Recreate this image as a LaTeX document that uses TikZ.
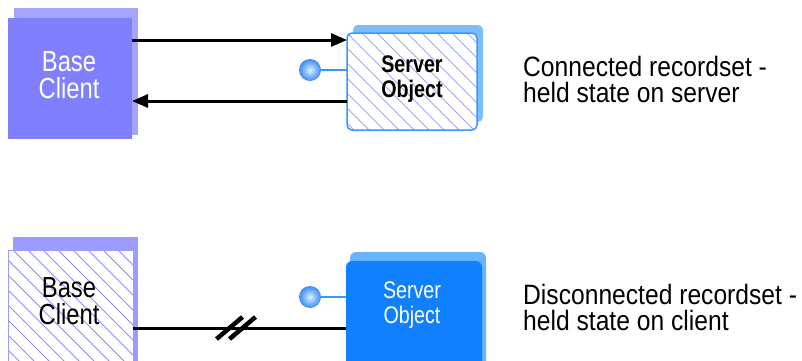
\documentclass[tikz,border=0pt]{standalone}
\usepackage{fontspec}
\setmainfont{Liberation Sans}
\newfontfamily\narrowsans{Liberation Sans}[FakeStretch=0.82]
\newfontfamily\notesans{Liberation Sans}[FakeStretch=0.88]
\usetikzlibrary{arrows.meta,calc}

\definecolor{clientface}{HTML}{8080FF}
\definecolor{clientback}{HTML}{A4A4FF}
\definecolor{clientedge}{HTML}{9C9CFF}
\definecolor{clienthatch}{HTML}{8C8CFF}
\definecolor{serveredge}{HTML}{3399FF}
\definecolor{serverback}{HTML}{7DBDFF}
\definecolor{serverhatch}{HTML}{A0A8F0}
\definecolor{serverface}{HTML}{1080FF}
\definecolor{serverback2}{HTML}{69B4FF}
\definecolor{ballin}{HTML}{DDEEFF}
\definecolor{ballout}{HTML}{3A8CF0}

\pgfdeclarelayer{backface}
\pgfdeclarelayer{midface}
\pgfsetlayers{backface,midface,main}

\tikzset{
  box/.style={rectangle, inner sep=0pt, outer sep=0pt},
  lbl/.style={align=center, inner sep=0pt, font=\narrowsans\fontsize{29}{27}\selectfont},
  srvlbl/.style={align=center, inner sep=0pt, font=\narrowsans\fontsize{24}{25}\selectfont},
  note/.style={align=left, inner sep=0pt, anchor=north west, font=\notesans\fontsize{28}{26}\selectfont},
  arr/.style={line width=3pt, -{Triangle[length=16pt,width=13pt]}},
  wire/.style={line width=3pt},
  stem/.style={line width=1.5pt, serveredge},
  ball/.style={circle, minimum size=22pt, inner sep=0pt, inner color=ballin, outer color=ballout},
  hatchline/.style={line width=1pt},
  slash/.style={line width=4.5pt}
}

\begin{document}
\begin{tikzpicture}[x=1pt,y=-1pt]
\useasboundingbox (0,0) rectangle (802,360);
\begin{pgfonlayer}{backface}
  \fill[white] (0,0) rectangle (802,360);
\end{pgfonlayer}

% ---- upper row: connected recordset ----
\node[box, fill=clientface, minimum width=124pt, minimum height=121pt] (bcA) at (70,78.5) {};
\node[lbl, text=white] (bcAtext) at (69,75) {Base\\Client};

\node[box, draw=serveredge, line width=1.5pt, rounded corners=5pt,
      minimum width=130pt, minimum height=97pt] (soA) at (412,81.5) {};
\node[srvlbl, font=\narrowsans\bfseries\fontsize{24}{25}\selectfont] (soAtext) at (412,79) {Server\\Object};

\begin{pgfonlayer}{backface}
  \fill[clientback] ([shift={(6,-10)}]bcA.north west) rectangle ([shift={(6,-4)}]bcA.south east);
  \fill[serverback, rounded corners=5pt] ([shift={(6,-8)}]soA.north west) rectangle ([shift={(6,-8)}]soA.south east);
\end{pgfonlayer}
\begin{pgfonlayer}{midface}
  \fill[white, rounded corners=5pt] (soA.north west) rectangle (soA.south east);
  \begin{scope}
    \clip[rounded corners=5pt] (soA.north west) rectangle (soA.south east);
    \foreach \s in {-120,-105,...,140}
      \draw[hatchline, serverhatch] ($(soA.north west)+(\s,0)$) -- ++(130,130);
  \end{scope}
\end{pgfonlayer}

\draw[arr] ([yshift=-22pt]bcA.north east) -- ([yshift=-22pt]bcA.north east -| soA.west);
\draw[arr] ([yshift=-68pt]soA.north west) -- ([yshift=-68pt]soA.north west -| bcA.east);

\node[ball] (ballA) at (310,70) {};
\draw[stem] (ballA.east) -- (ballA.east -| soA.west);

\node[note] (noteA) at (523,56) {Connected recordset -\\held state on server};

% ---- lower row: disconnected recordset ----
\node[box, draw=clientedge, line width=1pt, minimum width=125pt, minimum height=150pt] (bcB) at (70.5,325) {};
\node[lbl] (bcBtext) at (69,301) {Base\\Client};

\node[box, fill=serverface, rounded corners=6pt, minimum width=136pt, minimum height=130pt] (soB) at (414,326) {};
\node[srvlbl, text=white] (soBtext) at (412,305) {Server\\Object};

\begin{pgfonlayer}{backface}
  \fill[clientedge] ([shift={(5,-13)}]bcB.north west) rectangle ([shift={(5,-13)}]bcB.south east);
  \fill[serverback2, rounded corners=6pt] ([shift={(4,-9)}]soB.north west) rectangle ([shift={(4,-9)}]soB.south east);
\end{pgfonlayer}
\begin{pgfonlayer}{midface}
  \fill[white] (bcB.north west) rectangle (bcB.south east);
  \begin{scope}
    \clip (bcB.north west) rectangle (bcB.south east);
    \foreach \s in {-160,-145,...,140}
      \draw[hatchline, clienthatch] ($(bcB.north west)+(\s,0)$) -- ++(160,160);
  \end{scope}
\end{pgfonlayer}

\node[ball] (ballB) at (310,297) {};
\draw[stem] (ballB.east) -- (ballB.east -| soB.west);

\draw[wire] ([yshift=-78pt]bcB.north east) -- ([yshift=-78pt]bcB.north east -| soB.west);
\coordinate (brk) at (236,328);
\draw[slash] ($(brk)+(-19.5,11)$) -- ($(brk)+(6.5,-11)$);
\draw[slash] ($(brk)+(-6.5,11)$) -- ($(brk)+(19.5,-11)$);

\node[note] (noteB) at (523,284) {Disconnected recordset -\\held state on client};
\end{tikzpicture}
\end{document}
